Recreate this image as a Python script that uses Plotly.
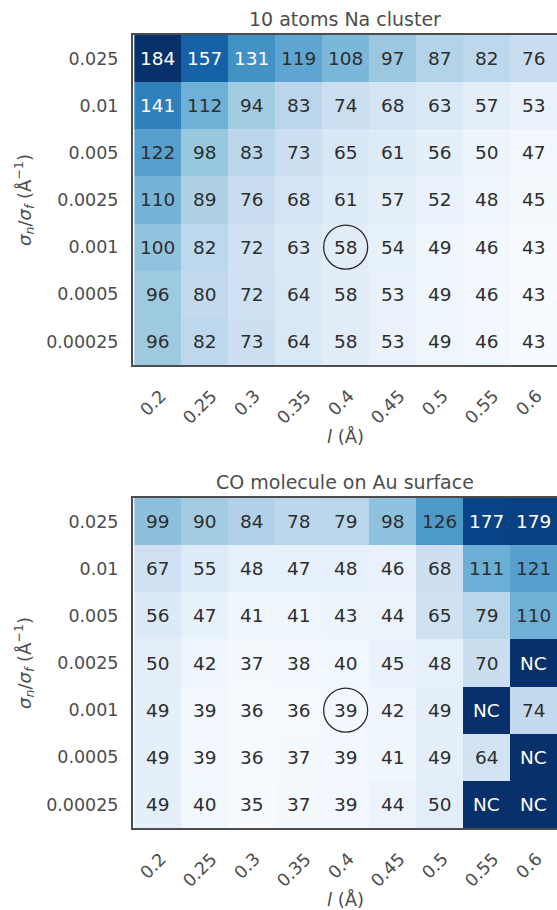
import plotly.graph_objects as go

# ---------------- data ----------------
l_labels = ["0.2", "0.25", "0.3", "0.35", "0.4", "0.45", "0.5", "0.55", "0.6"]
ratio_labels = ["0.025", "0.01", "0.005", "0.0025", "0.001", "0.0005", "0.00025"]

na_title = "10 atoms Na cluster"
na_values = [
    [184, 157, 131, 119, 108, 97, 87, 82, 76],
    [141, 112, 94, 83, 74, 68, 63, 57, 53],
    [122, 98, 83, 73, 65, 61, 56, 50, 47],
    [110, 89, 76, 68, 61, 57, 52, 48, 45],
    [100, 82, 72, 63, 58, 54, 49, 46, 43],
    [96, 80, 72, 64, 58, 53, 49, 46, 43],
    [96, 82, 73, 64, 58, 53, 49, 46, 43],
]

co_title = "CO molecule on Au surface"
co_values = [
    [99, 90, 84, 78, 79, 98, 126, 177, 179],
    [67, 55, 48, 47, 48, 46, 68, 111, 121],
    [56, 47, 41, 41, 43, 44, 65, 79, 110],
    [50, 42, 37, 38, 40, 45, 48, 70, "NC"],
    [49, 39, 36, 36, 39, 42, 49, "NC", 74],
    [49, 39, 36, 37, 39, 41, 49, 64, "NC"],
    [49, 40, 35, 37, 39, 44, 50, "NC", "NC"],
]

highlight_l = "0.4"
highlight_ratio = "0.001"

# ---------------- style ----------------
W, H = 557, 910
BLUES = ["#f7fbff", "#deebf7", "#c6dbef", "#9ecae1", "#6baed6",
         "#4292c6", "#2171b5", "#08519c", "#08306b"]
colorscale = [[i / 8, c] for i, c in enumerate(BLUES)]
FONT = "DejaVu Sans"
TICK_COLOR = "#4d4d4d"
CELL_DARK = "#2e2e2e"
FRAME = "#4d4d4d"

panels = [
    dict(title=na_title, values=na_values, zmin=43, zmax=184, top=35, bottom=365),
    dict(title=co_title, values=co_values, zmin=35, zmax=188, top=498, bottom=828),
]
left_px = 133

fig = go.Figure()
annotations = []
shapes = []

for k, p in enumerate(panels):
    xa = "x" if k == 0 else "x2"
    ya = "y" if k == 0 else "y2"
    z = [[p["zmax"] if v == "NC" else v for v in row] for row in p["values"]]
    fig.add_trace(go.Heatmap(
        z=z, x=l_labels, y=ratio_labels, xaxis=xa, yaxis=ya,
        colorscale=colorscale, zmin=p["zmin"], zmax=p["zmax"],
        showscale=False, hoverinfo="skip", xgap=0, ygap=0,
    ))
    y0 = 1 - p["bottom"] / H
    y1 = 1 - p["top"] / H
    axkey = "" if k == 0 else "2"
    fig.layout["xaxis" + axkey] = dict(
        type="category", domain=[left_px / W, 1.0], anchor=ya,
        showticklabels=False, ticks="", showgrid=False, zeroline=False,
        showline=True, mirror=True, linecolor=FRAME, linewidth=2,
    )
    fig.layout["yaxis" + axkey] = dict(
        type="category", domain=[y0, y1], anchor=xa, autorange="reversed",
        ticks="outside", ticklen=9, tickcolor="rgba(0,0,0,0)",
        tickfont=dict(family=FONT, size=17.5, color=TICK_COLOR),
        showgrid=False, zeroline=False,
        showline=True, mirror=False, linecolor=FRAME, linewidth=2,
    )
    # cell text (category index positions)
    for i, row in enumerate(p["values"]):
        for j, v in enumerate(row):
            zz = p["zmax"] if v == "NC" else v
            norm = (zz - p["zmin"]) / (p["zmax"] - p["zmin"])
            annotations.append(dict(
                x=j, y=i, xref=xa, yref=ya,
                text=str(v), showarrow=False,
                font=dict(family=FONT, size=18.5,
                          color="white" if norm > 0.61 else CELL_DARK),
            ))
    # x tick labels, rotated
    for j, lab in enumerate(l_labels):
        annotations.append(dict(
            x=j, y=y0, xref=xa, yref="paper", text=lab, showarrow=False,
            textangle=-45, xanchor="center", yanchor="top", yshift=-18, xshift=-5,
            font=dict(family=FONT, size=17.5, color=TICK_COLOR),
        ))
    # x axis title
    annotations.append(dict(
        x=(left_px + W) / 2 / W, y=y0, xref="paper", yref="paper",
        text="<i>l</i> (Å)", showarrow=False, xanchor="center", yanchor="middle",
        yshift=-71, font=dict(family=FONT, size=18, color=TICK_COLOR),
    ))
    # y axis title
    annotations.append(dict(
        x=24 / W, y=(y0 + y1) / 2, xref="paper", yref="paper",
        text="<i>σ</i><sub><i>n</i></sub>/<i>σ</i><sub><i>f</i></sub> (Å<sup>−1</sup>)",
        showarrow=False, textangle=-90, xanchor="center", yanchor="middle",
        font=dict(family=FONT, size=18, color=TICK_COLOR),
    ))
    # panel title
    annotations.append(dict(
        x=(left_px + W) / 2 / W, y=y1, xref="paper", yref="paper",
        text=p["title"], showarrow=False, xanchor="center", yanchor="middle",
        yshift=16, font=dict(family=FONT, size=19, color=TICK_COLOR),
    ))
    # highlight circle
    shapes.append(dict(
        type="circle", xref=xa, yref=ya, xsizemode="pixel", ysizemode="pixel",
        xanchor=l_labels.index(highlight_l), yanchor=ratio_labels.index(highlight_ratio),
        x0=-22, x1=22, y0=-22, y1=22,
        line=dict(color="#2a2a2a", width=1.3), fillcolor="rgba(0,0,0,0)",
    ))

fig.update_layout(
    width=W, height=H, margin=dict(l=0, r=0, t=0, b=0),
    paper_bgcolor="white", plot_bgcolor="white",
    annotations=annotations, shapes=shapes, showlegend=False,
    font=dict(family=FONT),
)
fig.write_html(
    "out.html",
    config={"displayModeBar": False},
    post_script="document.body.style.margin='0';document.body.style.overflow='hidden';",
)
